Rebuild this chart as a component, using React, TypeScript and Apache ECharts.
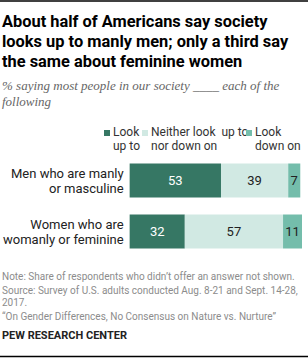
import React, { useEffect, useRef } from "react";
import * as echarts from "echarts";

// Survey responses, percent
const categories = ["Men who are manly\nor masculine", "Women who are\nwomanly or feminine"];
const lookUpTo = [53, 32];
const neither = [39, 57];
const lookDownOn = [7, 11];

const seriesNames = ["Look\nup to", "Neither look  up to\nnor down on", "Look\ndown on"];
const colors = ["#367764", "#d1e9e3", "#74bdab"];

const titleLines = [
  "About half of Americans say society",
  "looks up to manly men; only a third say",
  "the same about feminine women",
];
const subtitleLines = ["% saying most people in our society ____ each of the", "following"];
const footerLines = [
  "Note: Share of respondents who didn\u2019t offer an answer not shown.",
  "Source: Survey of U.S. adults conducted Aug. 8-21 and Sept. 14-28,",
  "2017.",
  "\u201cOn Gender Differences, No Consensus on Nature vs. Nurture\u201d",
];
const sourceLabel = "PEW RESEARCH CENTER";

const SANS = "Roboto, 'Liberation Sans', sans-serif";
const SERIF = "'Liberation Serif', 'DejaVu Serif', serif";

export default function App() {
  const ref = useRef<HTMLDivElement>(null);

  useEffect(() => {
    document.body.style.margin = "0";
    const chart = echarts.init(ref.current!, undefined, { renderer: "svg" });

    const graphics: any[] = [
      { type: "line", shape: { x1: 0, y1: 1, x2: 308, y2: 1 }, style: { stroke: "#000", lineWidth: 1.5 } },
      { type: "line", shape: { x1: 0, y1: 356.5, x2: 308, y2: 356.5 }, style: { stroke: "#000", lineWidth: 1.5 } },
    ];
    titleLines.forEach((t, i) => {
      graphics.push({
        type: "text",
        left: 2,
        top: 13 + i * 20,
        style: { text: t, font: `bold 16.4px ${SANS}`, fill: "#000" },
      });
    });
    subtitleLines.forEach((t, i) => {
      graphics.push({
        type: "text",
        left: 2,
        top: 79 + i * 16,
        style: { text: t, font: `italic 13px ${SERIF}`, fill: "#666" },
      });
    });
    // legend swatches and labels
    const legendX = [104, 142, 246];
    seriesNames.forEach((n, i) => {
      graphics.push({
        type: "rect",
        shape: { x: legendX[i], y: 130, width: 6, height: 6 },
        style: { fill: colors[i] },
      });
      graphics.push({
        type: "text",
        left: legendX[i] + 9,
        top: 125,
        style: { text: n, font: `12px ${SANS}`, fill: "#333", lineHeight: 14 },
      });
    });
    const footerTops = [271, 285, 297, 311];
    footerLines.forEach((t, i) => {
      graphics.push({
        type: "text",
        left: 2,
        top: footerTops[i],
        style: { text: t, font: `10px ${SANS}`, fill: "#8c8c8c" },
      });
    });
    graphics.push({
      type: "text",
      left: 2,
      top: 330,
      style: { text: sourceLabel, font: `bold 11px ${SANS}`, fill: "#222" },
    });

    const values = [lookUpTo, neither, lookDownOn];
    const labelColors = ["#fff", "#222", "#222"];

    chart.setOption({
      animation: false,
      grid: { left: 119, right: 6, top: 155, height: 102 },
      xAxis: { type: "value", min: 0, max: 100, show: false },
      yAxis: {
        type: "category",
        inverse: true,
        data: categories,
        axisTick: { show: false },
        axisLine: { show: false },
        axisLabel: {
          margin: 6,
          fontSize: 13,
          lineHeight: 15,
          color: "#222",
          fontFamily: SANS,
          align: "right",
        },
      },
      series: values.map((v, i) => ({
        type: "bar",
        name: seriesNames[i],
        stack: "total",
        data: v,
        barWidth: 34,
        itemStyle: { color: colors[i] },
        label: {
          show: true,
          position: "inside",
          color: labelColors[i],
          fontSize: 13,
          fontFamily: SANS,
        },
      })),
      graphic: graphics,
    });

    return () => chart.dispose();
  }, []);

  return <div ref={ref} style={{ width: 308, height: 358 }} />;
}
